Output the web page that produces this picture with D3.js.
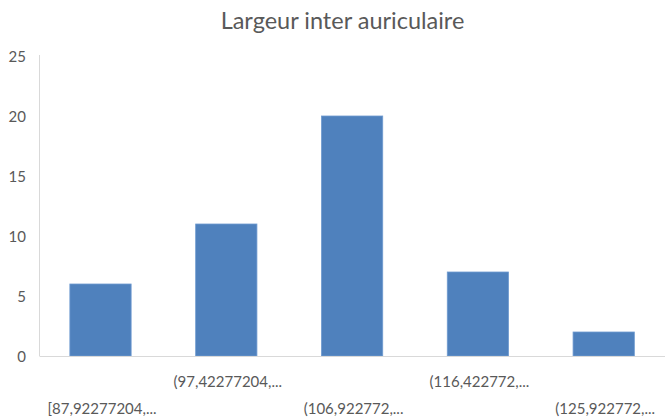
<!DOCTYPE html>
<html>
<head>
<meta charset="utf-8">
<script src="https://cdn.jsdelivr.net/npm/d3@7"></script>
<style>
  html, body { margin: 0; padding: 0; background: #fff; }
  svg { display: block; }
  text { font-family: Lato, "Open Sans", sans-serif; fill: #595959; }
</style>
</head>
<body>
<svg id="chart" width="665" height="419"></svg>
<script>
const title = "Largeur inter auriculaire";
const categories = ["[87,92277204,...", "(97,42277204,...", "(106,922772,...", "(116,422772,...", "(125,922772,..."];
const values = [6, 11, 20, 7, 2];
const yTicks = [0, 5, 10, 15, 20, 25];

const svg = d3.select("#chart");
const W = 665, H = 419;
const plot = { left: 37.6, right: 666.6, top: 56, bottom: 356 };

const x = d3.scaleBand()
  .domain(categories)
  .range([plot.left, plot.right])
  .paddingInner(0.513)
  .paddingOuter(0.2565);

const y = d3.scaleLinear()
  .domain([0, 25])
  .range([plot.bottom, plot.top]);

// title
svg.append("text")
  .attr("x", 342.5)
  .attr("y", 29)
  .attr("text-anchor", "middle")
  .style("font-size", "23.5px")
  .text(title);

// y axis line
svg.append("line")
  .attr("x1", 39.5).attr("x2", 39.5)
  .attr("y1", y(25) - 1).attr("y2", y(0))
  .attr("stroke", "#d9d9d9").attr("stroke-width", 1);

// y tick labels
const yAxis = d3.axisLeft(y).tickValues(yTicks).tickSize(0).tickPadding(0);
const gy = svg.append("g").attr("transform", "translate(26,0)").call(yAxis);
gy.select(".domain").remove();
gy.selectAll("text")
  .style("font-size", "15px")
  .style("font-family", "Lato, 'Open Sans', sans-serif")
  .attr("fill", "#595959")
  .attr("dy", "0.35em");

// bars
svg.append("g").selectAll("rect")
  .data(values)
  .join("rect")
  .attr("x", (d, i) => x(categories[i]))
  .attr("y", d => y(d))
  .attr("width", x.bandwidth())
  .attr("height", d => y(0) - y(d))
  .attr("fill", "#4f81bd")
  .attr("stroke", "#6f9bd0")
  .attr("stroke-width", 0.8);

// x axis baseline
svg.append("line")
  .attr("x1", 39.5).attr("x2", W)
  .attr("y1", y(0) + 0.5).attr("y2", y(0) + 0.5)
  .attr("stroke", "#d9d9d9").attr("stroke-width", 1.2);

// category labels (staggered)
svg.append("g").selectAll("text")
  .data(categories)
  .join("text")
  .attr("x", d => x(d) + x.bandwidth() / 2 + 1.5)
  .attr("y", (d, i) => i % 2 === 0 ? 414 : 387)
  .attr("text-anchor", "middle")
  .style("font-size", "15px")
  .text(d => d);
</script>
</body>
</html>
